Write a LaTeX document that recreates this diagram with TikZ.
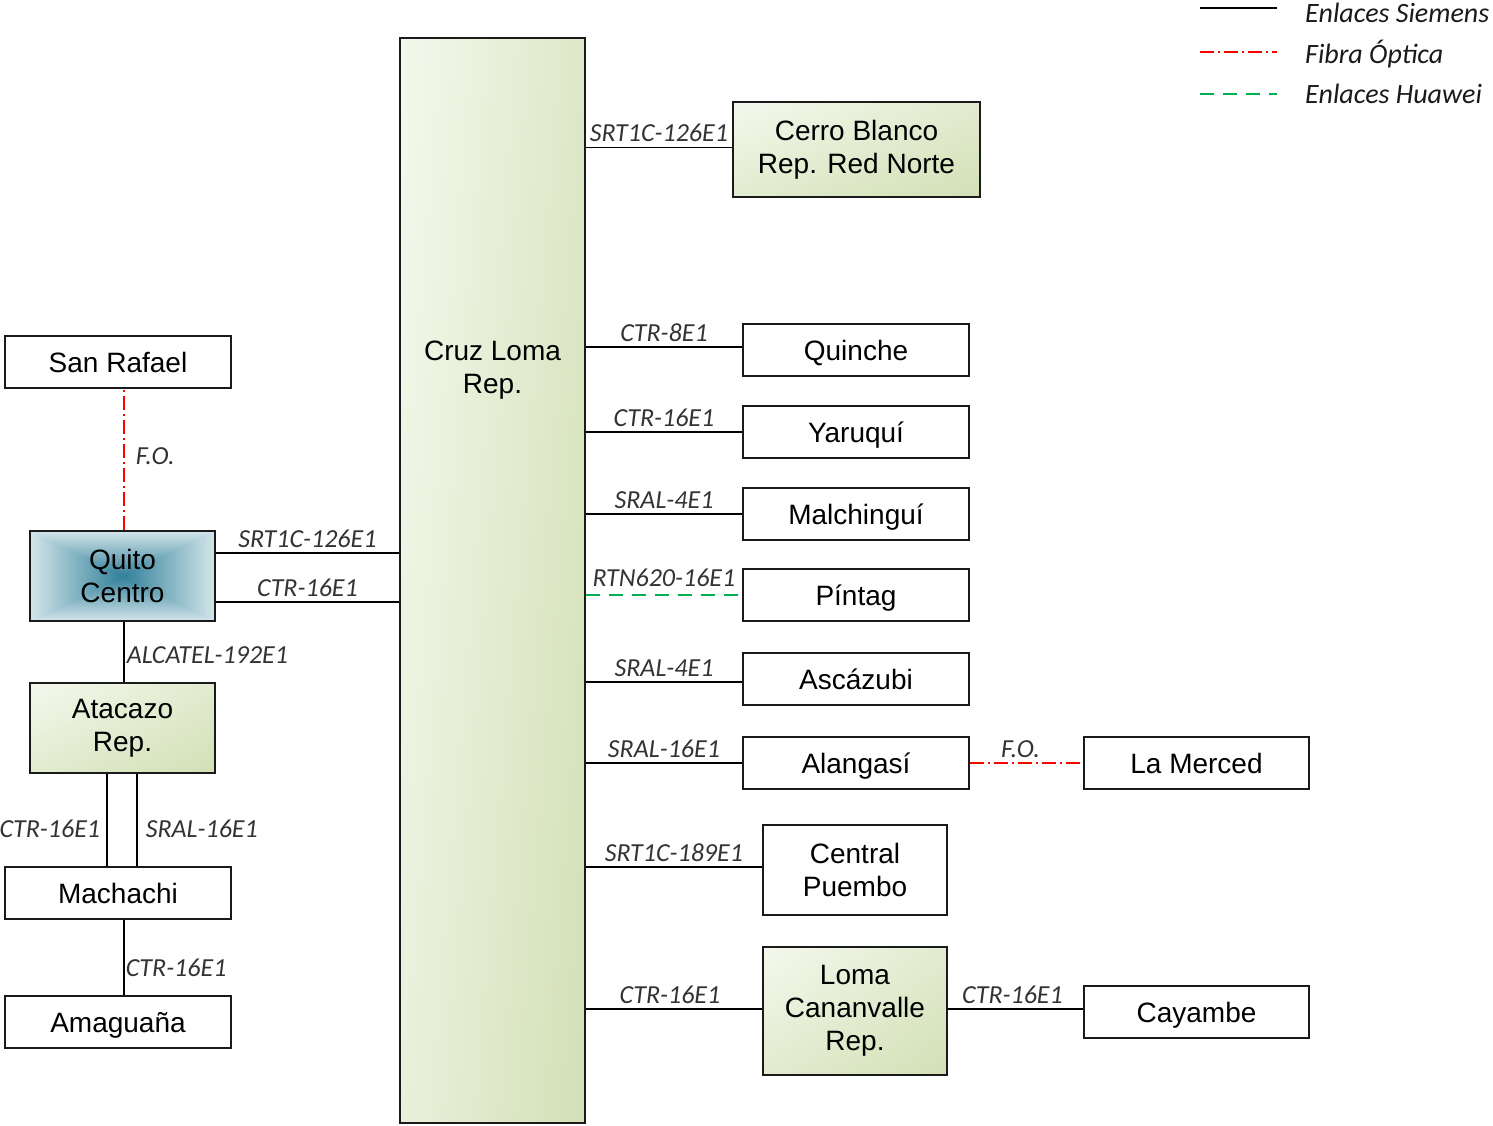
\documentclass[tikz,border=0pt]{standalone}
\usepackage{fontspec}
\setmainfont{Liberation Sans}
\newfontfamily\linkfont{Carlito}
\usetikzlibrary{calc,shadings}

\definecolor{boxline}{HTML}{1A1A1A}
\definecolor{labelgray}{HTML}{333333}
\definecolor{legendtext}{HTML}{1A1A1A}
\definecolor{hwgreen}{HTML}{00B050}
\definecolor{fored}{HTML}{FF0000}
\definecolor{oliveA}{HTML}{F4F8ED}
\definecolor{oliveB}{HTML}{E2EBCF}
\definecolor{oliveC}{HTML}{D3E0B6}

% rectangular shading: dark teal in the middle, pale blue towards every edge
\pgfdeclarefunctionalshading{centerbox}{\pgfpoint{-50bp}{-50bp}}{\pgfpoint{50bp}{50bp}}{}{
  abs 25 div exch abs 25 div
  2 copy lt {exch} if pop
  dup 1 gt {pop 1} if
  dup 0.64 mul 0.19 add exch
  dup 0.40 mul 0.50 add exch
  0.32 mul 0.60 add
}

\tikzset{
  box/.style={draw=boxline, line width=2pt, fill=white, inner sep=0pt,
    minimum width=226pt, minimum height=52pt, align=center,
    font=\fontsize{28pt}{33pt}\selectfont},
  onebox/.style={box, text height=20pt, text depth=0pt},
  greenbox/.style={box, upper left=oliveA, upper right=oliveB,
    lower left=oliveB, lower right=oliveC},
  tealbox/.style={box, shading=centerbox},
  trunkbox/.style={box, upper left=oliveA, upper right=oliveB!70!oliveC,
    lower left=oliveB!60!oliveA, lower right=oliveC},
  link/.style={draw=black, line width=1.6pt},
  fiber/.style={draw=fored, line width=1.6pt,
    dash pattern=on 14pt off 4pt on 2pt off 4pt},
  huawei/.style={draw=hwgreen, line width=1.6pt,
    dash pattern=on 14pt off 9pt},
  lbl/.style={font=\linkfont\itshape\fontsize{26pt}{30pt}\selectfont,
    text=labelgray, inner sep=1pt},
  toplbl/.style={lbl, anchor=base, yshift=6pt},
  legtext/.style={font=\linkfont\itshape\fontsize{28pt}{32pt}\selectfont,
    text=legendtext, anchor=base west, inner sep=0pt}
}

\begin{document}
\begin{tikzpicture}[x=1pt, y=-1pt]
\useasboundingbox (0,0) rectangle (1493,1125);

% central repeater
\node[trunkbox, minimum width=185pt, minimum height=1085pt] (cruz) at (492.5,580.5) {};
\node[font=\fontsize{28pt}{33pt}\selectfont, align=center, inner sep=0pt] (cruztext) at (492.5,370) {Cruz Loma\\Rep.};

% sites east of Cruz Loma
\node[greenbox, minimum width=247pt, minimum height=95pt] (cerro) at (856.5,149.5) {Cerro Blanco\\Rep. Red Norte};
\node[onebox] (quinche) at (856,350) {Quinche};
\node[onebox] (yaruqui) at (856,432) {Yaruquí};
\node[onebox] (malchingui) at (856,514) {Malchinguí};
\node[onebox] (pintag) at (856,595) {Píntag};
\node[onebox] (ascazubi) at (856,679) {Ascázubi};
\node[onebox] (alangasi) at (856,763) {Alangasí};
\node[onebox, minimum width=225pt] (merced) at (1196.5,763) {La Merced};
\node[box, minimum width=184pt, minimum height=90pt] (puembo) at (855,870) {Central\\Puembo};
\node[greenbox, minimum width=184pt, minimum height=128pt] (cananvalle) at (855,1011) {Loma\\Cananvalle\\Rep.};
\node[onebox, minimum width=225pt] (cayambe) at (1196.5,1012) {Cayambe};

% sites west of Cruz Loma
\node[onebox] (sanrafael) at (118,362) {San Rafael};
\node[tealbox, minimum width=185pt, minimum height=90pt] (quito) at (122.5,576) {Quito\\Centro};
\node[greenbox, minimum width=185pt, minimum height=90pt] (atacazo) at (122.5,728) {Atacazo\\Rep.};
\node[onebox] (machachi) at (118,893) {Machachi};
\node[onebox] (amaguana) at (118,1022) {Amaguaña};

% links leaving Cruz Loma to the east
\draw[link] ([yshift=2pt]cerro.west -| cruz.east) -- ([yshift=2pt]cerro.west) node[toplbl, midway] {SRT1C-126E1};
\draw[link] ([yshift=3pt]quinche.west -| cruz.east) -- ([yshift=3pt]quinche.west) node[toplbl, midway] {CTR-8E1};
\draw[link] (yaruqui.west -| cruz.east) -- (yaruqui.west) node[toplbl, midway] {CTR-16E1};
\draw[link] (malchingui.west -| cruz.east) -- (malchingui.west) node[toplbl, midway] {SRAL-4E1};
\draw[huawei] (pintag.west -| cruz.east) -- (pintag.west) node[toplbl, midway, yshift=3pt] {RTN620-16E1};
\draw[link] ([yshift=-3pt]ascazubi.west -| cruz.east) -- ([yshift=-3pt]ascazubi.west) node[toplbl, midway] {SRAL-4E1};
\draw[link] (alangasi.west -| cruz.east) -- (alangasi.west) node[toplbl, midway] {SRAL-16E1};
\draw[fiber] (alangasi.east) -- (merced.west) node[toplbl, midway, xshift=-6pt] {F.O.};
\draw[link] ([yshift=3pt]puembo.west -| cruz.east) -- ([yshift=3pt]puembo.west) node[toplbl, midway] {SRT1C-189E1};
\draw[link] ([yshift=2pt]cananvalle.west -| cruz.east) -- ([yshift=2pt]cananvalle.west) node[toplbl, midway, xshift=-4pt] {CTR-16E1};
\draw[link] ([yshift=2pt]cananvalle.east) -- ([yshift=2pt]cananvalle.east -| cayambe.west) node[toplbl, midway, xshift=-3pt] {CTR-16E1};

% links on the west side
\draw[link] ([yshift=23pt]quito.east) -- ([yshift=23pt]quito.east -| cruz.west) node[toplbl, midway] {SRT1C-126E1};
\draw[link] ([yshift=-26pt]quito.east) -- ([yshift=-26pt]quito.east -| cruz.west) node[toplbl, midway] {CTR-16E1};
\draw[fiber] ([xshift=1.5pt]quito.north) -- ([xshift=1.5pt]quito.north |- sanrafael.south) node[lbl, midway, anchor=west, xshift=10pt, yshift=3pt] {F.O.};
\draw[link] ([xshift=1.5pt]quito.south) -- ([xshift=1.5pt]atacazo.north) node[lbl, midway, anchor=west, xshift=1pt, yshift=-3pt] {ALCATEL-192E1};
\draw[link] ([xshift=-15.5pt]atacazo.south) -- ([xshift=-15.5pt]atacazo.south |- machachi.north) node[lbl, midway, anchor=east, xshift=-5pt, yshift=-9pt] {CTR-16E1};
\draw[link] ([xshift=14.5pt]atacazo.south) -- ([xshift=14.5pt]atacazo.south |- machachi.north) node[lbl, midway, anchor=west, xshift=7pt, yshift=-9pt] {SRAL-16E1};
\draw[link] ([xshift=6pt]machachi.south) -- ([xshift=6pt]amaguana.north) node[lbl, midway, anchor=west, xshift=0pt, yshift=-10pt] {CTR-16E1};

% legend
\coordinate (legA1) at (1200,8);   \coordinate (legA2) at (1277,8);
\coordinate (legB1) at (1200,52);  \coordinate (legB2) at (1277,52);
\coordinate (legC1) at (1200,94);  \coordinate (legC2) at (1277,94);
\draw[link, line width=2.2pt] (legA1) -- (legA2);
\draw[fiber] (legB1) -- (legB2);
\draw[huawei] (legC1) -- (legC2);
\node[legtext] (legA) at (1305,22) {Enlaces Siemens};
\node[legtext] (legB) at (1305,63) {Fibra Óptica};
\node[legtext] (legC) at (1305,103) {Enlaces Huawei};
\end{tikzpicture}
\end{document}
